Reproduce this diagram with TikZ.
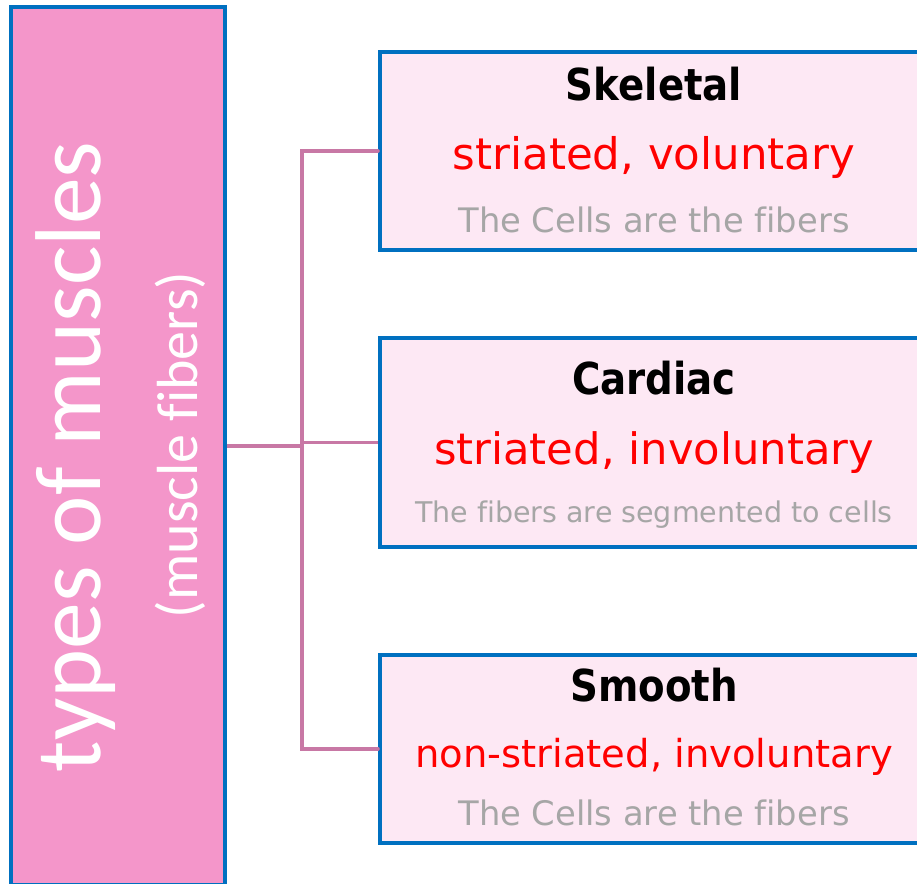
\documentclass[tikz,border=0pt]{standalone}
\usepackage{fontspec}
\setmainfont{DejaVu Sans}[Ligatures={NoCommon}]
\newfontfamily\vertfont{Carlito}[Ligatures={NoCommon}]
\newfontfamily\headfont{DejaVu Sans}[FakeStretch=0.88]
\definecolor{leftfill}{HTML}{F496CA}
\definecolor{boxblue}{HTML}{0070C0}
\definecolor{boxfill}{HTML}{FDE8F4}
\definecolor{linkcol}{HTML}{C878A5}
\definecolor{redtxt}{HTML}{FF0000}
\definecolor{graytxt}{HTML}{A6A6A6}
\begin{document}
\begin{tikzpicture}[x=1pt,y=1pt,
  catbox/.style={draw=boxblue,line width=4pt,fill=boxfill,rectangle,inner sep=0pt,minimum width=548pt},
  titlebox/.style={draw=boxblue,line width=4pt,fill=leftfill,rectangle,inner sep=0pt,minimum width=213.4pt,minimum height=877.7pt},
  link/.style={draw=linkcol,line width=3.5pt},
  headtxt/.style={anchor=base,inner sep=0pt,font=\headfont\bfseries\fontsize{44}{48}\selectfont,text=black},
  redline/.style={anchor=base,inner sep=0pt,text=redtxt},
  grayline/.style={anchor=base,inner sep=0pt,text=graytxt}]
\useasboundingbox (0,0) rectangle (917,883);
\fill[white] (0,0) rectangle (917,883);
% left title box
\node[titlebox] (types) at (118,437) {};
\node[anchor=base,inner sep=0pt,rotate=90,text=white,font=\vertfont\fontsize{93.5}{100}\selectfont] (tmain) at (100,426) {types of muscles};
\node[anchor=base,inner sep=0pt,rotate=90,text=white,font=\vertfont\fontsize{58}{62}\selectfont] (tsub) at (197,438) {(muscle fibers)};
% category boxes
\node[catbox,minimum height=198.6pt] (sk) at (654,732) {};
\node[catbox,minimum height=209pt] (ca) at (654,440.5) {};
\node[catbox,minimum height=188.3pt] (sm) at (654,134.2) {};
% connectors
\coordinate (j) at (302,437);
\draw[link] (types.east) -- (j);
\draw[link,line cap=round] (j) |- (sk.west);
\draw[link] (j) |- (ca.west);
\draw[link,line cap=round] (j) |- (sm.west);
% texts: Skeletal
\node[headtxt] (skh) at (654,782) {Skeletal};
\node[redline,font=\fontsize{43.5}{48}\selectfont] (skr) at (654,713) {striated, voluntary};
\node[grayline,font=\fontsize{33.75}{38}\selectfont] (skg) at (654,650) {The Cells are the fibers};
% Cardiac
\node[headtxt] (cah) at (654,488) {Cardiac};
\node[redline,font=\fontsize{43.3}{48}\selectfont] (car) at (654,418) {striated, involuntary};
\node[grayline,font=\fontsize{28.5}{32}\selectfont] (cag) at (654,360) {The fibers are segmented to cells};
% Smooth
\node[headtxt] (smh) at (654,181) {Smooth};
\node[redline,font=\fontsize{38.5}{42}\selectfont] (smr) at (654,116) {non-striated, involuntary};
\node[grayline,font=\fontsize{33.75}{38}\selectfont] (smg) at (654,58) {The Cells are the fibers};
\end{tikzpicture}
\end{document}
